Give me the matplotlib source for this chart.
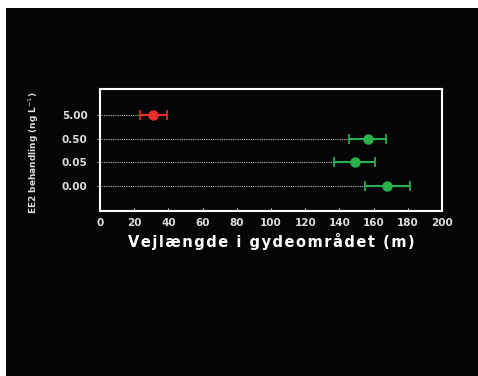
import numpy as np
import matplotlib.pyplot as plt
from matplotlib.patches import Rectangle

# EE2 treatment levels (bottom to top) and distance travelled in spawning area
doses = ['0.00', '0.05', '0.50', '5.00']
means = [168, 149, 156.5, 31]
err_lo = [13, 12, 11, 7.5]
err_hi = [13, 12, 10.5, 8]
colors = ['#2bb24c', '#2bb24c', '#2bb24c', '#e8302a']

fig = plt.figure(figsize=(4.78, 3.76), dpi=100, facecolor='#050507')
# white edge strips on left and top, as in the scanned original
fig.patches.append(Rectangle((0, 0), 6/478, 1, transform=fig.transFigure,
                             facecolor='white', edgecolor='none', zorder=-1))
fig.patches.append(Rectangle((0, 1 - 8/376), 1, 8/376, transform=fig.transFigure,
                             facecolor='white', edgecolor='none', zorder=-1))

ax = fig.add_axes([100/478, 1 - 211/376, 342/478, 122/376])
ax.set_facecolor('#050507')

y = np.arange(len(doses))
for i in range(len(doses)):
    lo = means[i] - err_lo[i]
    ax.plot([-1.5, lo], [y[i], y[i]], color='#bbbbbb', ls=(0, (1, 1)), lw=0.8,
            clip_on=False, zorder=1)
    ax.errorbar(means[i], y[i], xerr=[[err_lo[i]], [err_hi[i]]], fmt='o',
                color=colors[i], ms=6.5, elinewidth=1.5, capsize=3.5,
                capthick=1.2, zorder=3)

ax.set_xlim(0, 200)
ax.set_ylim(-1.05, 4.1)
ax.set_xticks(np.arange(0, 201, 20))
ax.set_yticks(y)
ax.set_yticklabels(doses)
for s in ax.spines.values():
    s.set_color('white')
    s.set_linewidth(1.5)
ax.tick_params(axis='x', colors='#dddddd', length=2, direction='in', pad=5,
               labelsize=7.5)
ax.tick_params(axis='y', colors='#dddddd', length=0, pad=9, labelsize=7.5)
for lab in ax.get_xticklabels() + ax.get_yticklabels():
    lab.set_fontweight('bold')

xlab = 'Vejlængde i gydeområdet (m)'
xlab = '\u200a'.join(xlab)
ax.set_xlabel(xlab, color='white', fontsize=10.5, fontweight='bold', labelpad=4)
fig.text(34/478, 1 - 153/376, 'EE2 behandling (ng L$^{-1}$)', rotation=90,
         color='#dddddd', fontsize=6.5, fontweight='bold', ha='center', va='center')

fig.savefig('out.png', dpi=100, facecolor=fig.get_facecolor())
